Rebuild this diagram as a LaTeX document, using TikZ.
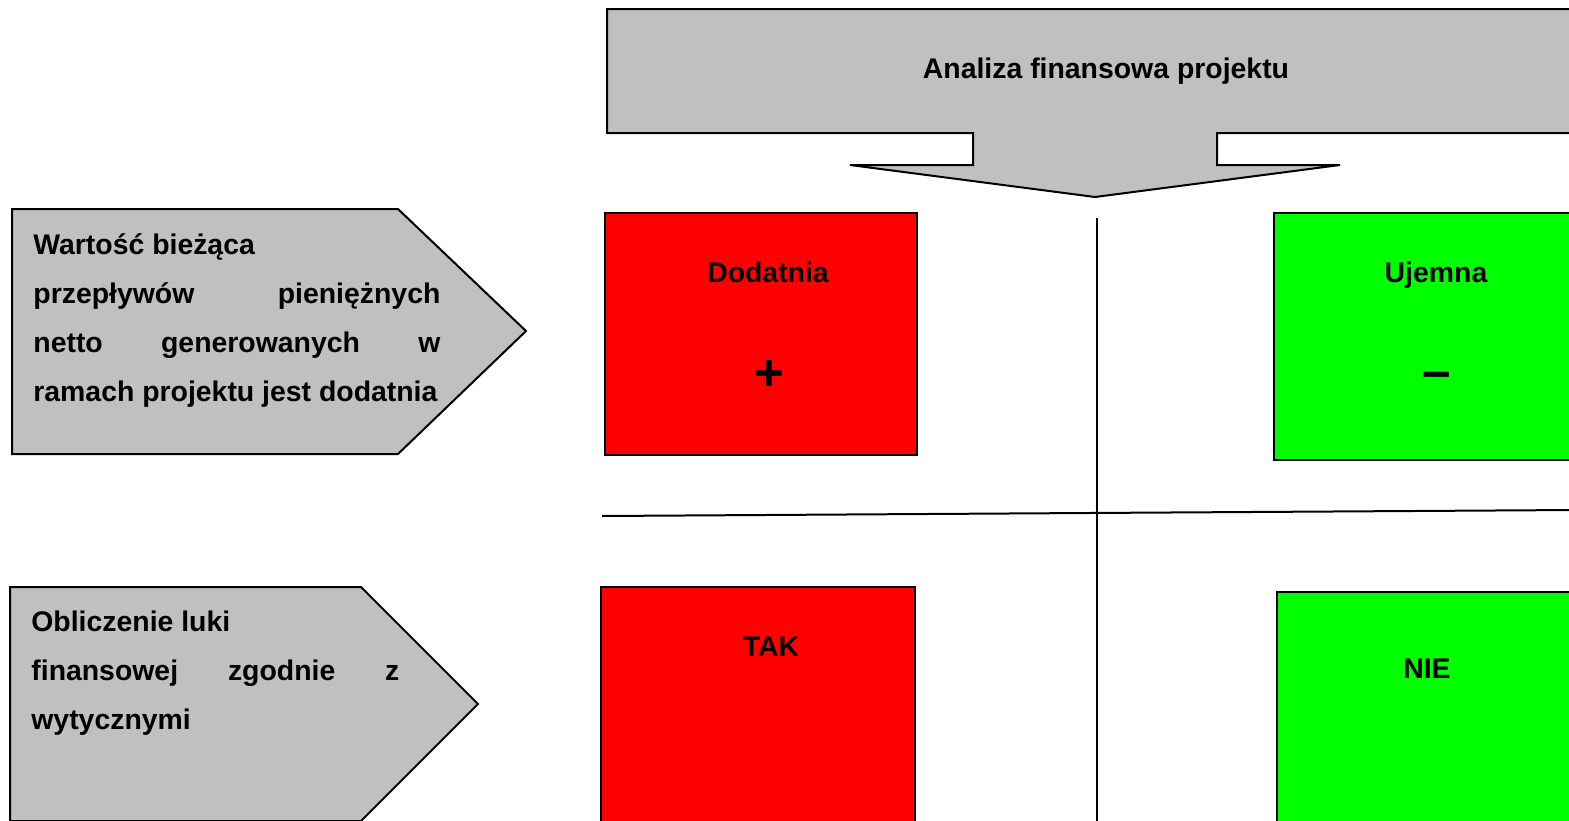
\documentclass[tikz,border=0pt]{standalone}
\usepackage{fontspec}
\setmainfont{Liberation Sans}
\definecolor{panelgray}{HTML}{C0C0C0}
\definecolor{boxred}{HTML}{FF0000}
\definecolor{boxgreen}{HTML}{00FF00}
\tikzset{
  panel/.style={draw=black, fill=panelgray, line width=1pt, line join=miter},
  redbox/.style={draw=black, fill=boxred, line width=1pt},
  greenbox/.style={draw=black, fill=boxgreen, line width=1pt},
  label/.style={font=\fontsize{14.2}{17}\selectfont\bfseries, inner sep=0pt},
  sign/.style={font=\fontsize{25.5}{28}\selectfont\bfseries, inner sep=0pt},
  body/.style={font=\fontsize{14.2}{24.5}\selectfont\bfseries, inner sep=0pt, align=left},
  divider/.style={draw=black, line width=1pt}
}
\begin{document}
\begin{tikzpicture}[x=0.5pt, y=-0.5pt]
\clip (0,0) rectangle (1569,820);
\fill[white] (0,0) rectangle (1569,820);

% heading callout with downward arrow
\path[panel] (607,9) -- (1590,9) -- (1590,133) -- (1217,133) -- (1217,165)
  -- (1340,165) -- (1095,197) -- (850,165) -- (973,165) -- (973,133)
  -- (607,133) -- cycle;
\node[label, anchor=base] (title) at (1106,78) {Analiza finansowa projektu};

% left-hand pointer panels (text anchored at the baseline of its last line)
\path[panel] (12,209) -- (398,209) -- (526,331) -- (398,454) -- (12,454) -- cycle;
\node[body, anchor=base west] (npv) at (33,401)
  {Wartość bieżąca\\
   \makebox[203.5pt][s]{przepływów pieniężnych}\\
   \makebox[203.5pt][s]{netto generowanych w}\\
   ramach projektu jest dodatnia};

\path[panel] (10,587) -- (361,587) -- (478,704) -- (361,821) -- (10,821) -- cycle;
\node[body, anchor=base west] (gap) at (31,729)
  {Obliczenie luki\\
   \makebox[184pt][s]{finansowej zgodnie z}\\
   wytycznymi};

% dividers
\coordinate (vtop) at (1097,218);
\coordinate (vbot) at (1097,830);
\coordinate (hleft) at (602,516);
\coordinate (hright) at (1575,510);
\draw[divider] (vtop) -- (vbot);
\draw[divider] (hleft) -- (hright);

% result boxes
\path[redbox] (605,213) rectangle (917,455);
\node[label, anchor=base] (dod) at (768,282) {Dodatnia};
\node[sign] (plus) at (769,376) {+};

\path[greenbox] (1274,213) rectangle (1590,460);
\node[label, anchor=base] (uje) at (1436,282) {Ujemna};
\node[sign] (minus) at (1437,380) {–};

\path[redbox] (601,587) rectangle (915,830);
\node[label, anchor=base] (tak) at (771,656) {TAK};

\path[greenbox] (1277,592) rectangle (1590,830);
\node[label, anchor=base] (nie) at (1427,678) {NIE};
\end{tikzpicture}
\end{document}
